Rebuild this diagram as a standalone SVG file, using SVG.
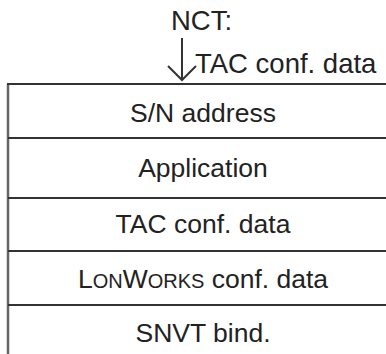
<svg xmlns="http://www.w3.org/2000/svg" width="386" height="354" viewBox="0 0 386 354">
  <style>
    .lbl { font-family: "Liberation Sans", Arial, sans-serif; font-size: 26.5px; fill: #222; }
    .top { font-size: 27.5px; }
    .mid { text-anchor: middle; }
    .rule { stroke: #333; stroke-width: 2; fill: none; }
    .sc { font-size: 20px; }
  </style>
  <rect width="386" height="354" fill="#fff"/>

  <!-- incoming transfer -->
  <g id="nct-input">
    <text class="lbl top" x="171" y="30">NCT:</text>
    <text class="lbl top" x="195" y="73">TAC conf. data</text>
  </g>

  <g id="connectors">
    <path class="rule" d="M182 38 V80 M168 66 L182 80 L196 66" stroke-width="1.8"/>
  </g>

  <!-- memory table -->
  <g id="frame">
    <path d="M8 84 V354" stroke="#666" stroke-width="2.5" fill="none"/>
    <path class="rule" d="M7 84 H386"/>
  </g>
  <g id="row-sn">
    <text class="lbl mid" x="203" y="122">S/N address</text>
    <path class="rule" d="M8 138 H386"/>
  </g>
  <g id="row-app">
    <text class="lbl mid" x="203" y="177">Application</text>
    <path class="rule" d="M8 198 H386"/>
  </g>
  <g id="row-tac">
    <text class="lbl mid" x="203" y="233">TAC conf. data</text>
    <path class="rule" d="M8 251 H386" stroke="#444"/>
  </g>
  <g id="row-lon">
    <text class="lbl mid" x="203" y="288">L<tspan class="sc">ON</tspan>W<tspan class="sc">ORKS</tspan> conf. data</text>
    <path class="rule" d="M8 305 H386" stroke="#555"/>
  </g>
  <g id="row-snvt">
    <text class="lbl mid" x="203" y="342">SNVT bind.</text>
  </g>
</svg>
